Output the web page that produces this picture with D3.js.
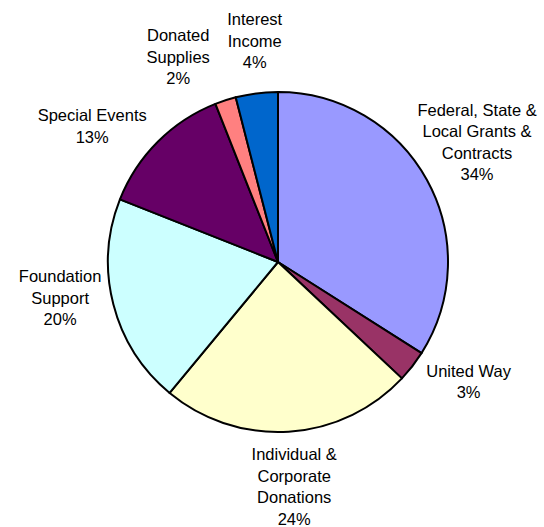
<!DOCTYPE html>
<html><head><meta charset="utf-8">
<script src="https://cdn.jsdelivr.net/npm/d3@7"></script>
<style>
html,body{margin:0;padding:0;background:#fff;}
svg{display:block;}
text{font-family:"Liberation Sans",Arial,sans-serif;font-size:16.5px;fill:#000;}
</style></head>
<body>
<svg id="chart" width="544" height="527"></svg>
<script>
// Data
const categories = [
  ["Federal, State &", "Local Grants &", "Contracts"],
  ["United Way"],
  ["Individual &", "Corporate", "Donations"],
  ["Foundation", "Support"],
  ["Special Events"],
  ["Donated", "Supplies"],
  ["Interest", "Income"]
];
const values = [34, 3, 24, 20, 13, 2, 4];
const colors = ["#9999FF", "#993366", "#FFFFCC", "#CCFFFF", "#660066", "#FF8080", "#0066CC"];
// layout nudges for label blocks (px), relative to the mid-angle anchor
const labelNudge = [[1,-11],[12,-19],[2,-1],[1,-20],[-26,24],[-30,10],[5,3]];

const svg = d3.select("#chart");
const cx = 278, cy = 262, r = 170, labelR = 226, lineH = 21.5;

const pie = d3.pie().sort(null).value(d => d.v).startAngle(0).endAngle(2*Math.PI);
const data = values.map((v,i) => ({v, i}));
const arcs = pie(data);
const arc = d3.arc().innerRadius(0).outerRadius(r);

const g = svg.append("g").attr("transform", `translate(${cx},${cy})`);
g.selectAll("path").data(arcs).enter().append("path")
  .attr("d", arc)
  .attr("fill", d => colors[d.data.i])
  .attr("stroke", "#000")
  .attr("stroke-width", 2)
  .attr("stroke-linejoin", "round");

const labelArc = d3.arc().innerRadius(labelR).outerRadius(labelR);
arcs.forEach(d => {
  const i = d.data.i;
  const [x0, y0] = labelArc.centroid(d);
  const x = x0 + labelNudge[i][0], y = y0 + labelNudge[i][1];
  const lines = categories[i].concat([values[i] + "%"]);
  const t = g.append("text").attr("text-anchor", "middle");
  const top = y - (lines.length - 1) * lineH / 2;
  lines.forEach((s, k) => {
    t.append("tspan").attr("x", x).attr("y", top + k * lineH).attr("dy", "0.35em").text(s);
  });
});
</script>
</body></html>
